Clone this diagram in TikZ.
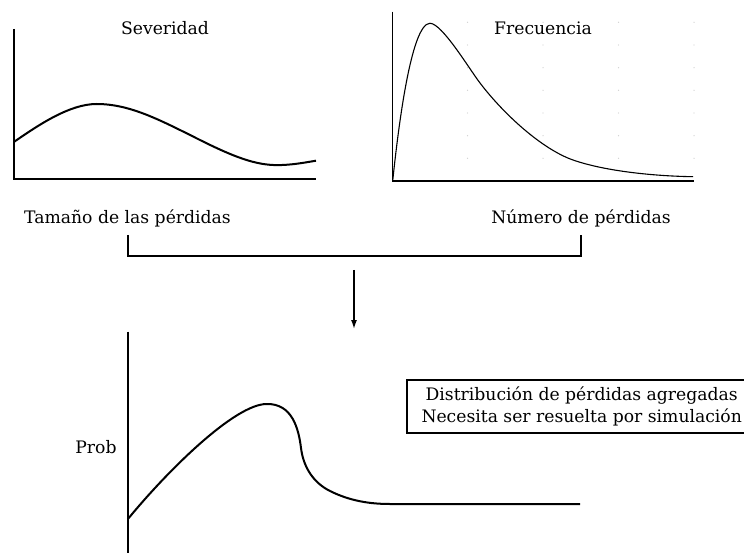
\documentclass[tikz,border=0pt]{standalone}
\usepackage{fontspec}
\setmainfont{DejaVu Serif}
\usetikzlibrary{arrows.meta}
\newcommand{\lblFont}[0]{\fontsize{17.2}{21.7}\selectfont}

\begin{document}
\begin{tikzpicture}[x=1pt, y=-1pt]
  \tikzset{thick line/.style={line width=2pt},
           thin line/.style={line width=1.1pt},
           lbl/.style={anchor=base, inner sep=0pt, font=\lblFont}}
  \useasboundingbox (0,0) rectangle (744,553);
  \clip (0,0) rectangle (744,553);

  % severidad
  \draw[thick line] (14.3,29) -- (14.3,179.5) -- (316,179.5);
  \draw[thick line] (14.3,141.7) .. controls (40,124) and (70,104) .. (96.7,104)
    .. controls (130,104) and (160,120) .. (200,140)
    .. controls (240,160) and (260,166) .. (282,165)
    .. controls (295,164.5) and (305,162.5) .. (316,160.7);
  \node[lbl] (sev) at (165,35) {Severidad};

  % frecuencia
  \foreach \gx in {467.5,543,618.5,694}
    \foreach \gy in {22.3,45,67.7,90.3,113,135.7,158.3}
      \fill[black!18] (\gx,\gy) circle (0.7pt);
  \draw[thin line] (392.7,11.7) -- (392.7,181) -- (694,181);
  \draw[thin line] (392.7,181) .. controls (398,130) and (411,23.3) .. (430,23.3)
    .. controls (442,23.3) and (469,68.6) .. (480,83)
    .. controls (505,115.75) and (543,149.5) .. (573,160)
    .. controls (603,170.5) and (650,176) .. (693,176.7);
  \node[lbl] (frec) at (543,35) {Frecuencia};

  \node[lbl] (tam) at (127.5,223.3) {Tamaño de las pérdidas};
  \node[lbl] (num) at (581,223.3) {Número de pérdidas};
  \coordinate (brl) at ([yshift=-11.7pt]tam.base);
  \coordinate (brr) at ([yshift=-11.7pt]num.base);
  \draw[thick line] (brl) -- ++(0,21) -| (brr);

  \coordinate (arrtop) at (354,270);
  \coordinate (arrtip) at (354,329);
  \draw[line width=1.5pt, -{Latex[length=9pt,width=6pt]}] (arrtop) -- (arrtip);

  % agregada
  \draw[thick line] (127.7,331.7) -- (127.7,553);
  \draw[thick line] (127.7,519.3) .. controls (167.7,470.5) and (235,404) .. (266.7,404)
    .. controls (292,403.5) and (298.5,428) .. (301,448)
    .. controls (303.5,468) and (314,483) .. (330,491)
    .. controls (350,501) and (370,504) .. (390,504) -- (580,504);
  \node[lbl] (prob) at (96,453) {Prob};

  \node[draw, line width=2pt, minimum width=349pt, minimum height=53.3pt, align=center, font=\lblFont] (dist) at (581.7,406.7) {Distribución de pérdidas agregadas\\Necesita ser resuelta por simulación};
\end{tikzpicture}
\end{document}
